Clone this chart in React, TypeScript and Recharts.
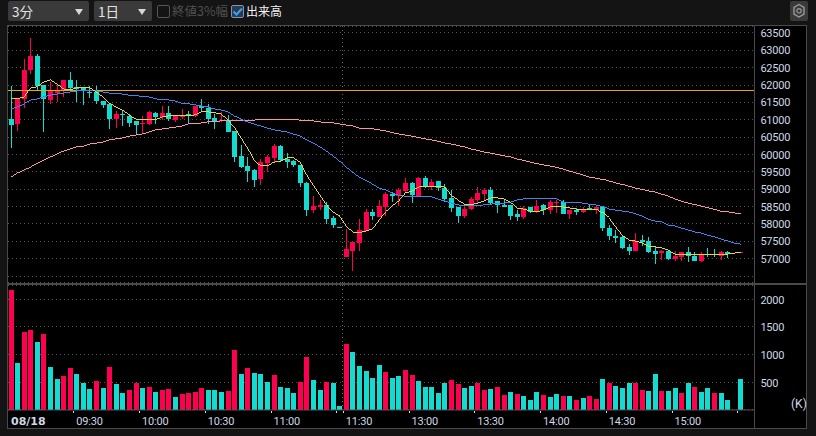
import React from "react";
import { ComposedChart, Bar, Line, XAxis, YAxis, CartesianGrid, ReferenceLine } from "recharts";

const RED = "#ff0050";
const TEAL = "#12dcd2";

const opens = [61020,60880,61600,62430,62840,62000,61570,61770,61860,62150,61950,61920,61800,61800,61540,61460,61020,61170,61110,60970,60880,60880,61200,61080,61200,60990,61080,61170,61110,61400,61340,61050,60970,60990,60680,59960,59670,59550,59290,59750,59900,60240,59870,59810,59700,59180,58400,58490,58550,58170,57910,57050,57220,57450,57800,58350,58200,58490,58860,58800,58950,59180,58800,59320,59060,59240,59030,58750,58490,58230,58430,58690,58860,58980,58660,58550,58550,58290,58200,58490,58350,58550,58400,58600,58630,58290,58400,58350,58460,58400,58490,57880,57650,57630,57340,57220,57540,57510,57220,57160,57220,56990,57050,57190,57080,56930,57130,57130,57080,57190,null,57170];
const highs = [61970,61600,62750,63360,62900,62000,62090,62000,62150,62380,62150,61920,61970,61970,61540,61460,61250,61250,61170,60970,61110,61250,61230,61400,61400,61110,61310,61250,61400,61600,61460,61170,61230,61140,60680,60270,59930,59580,59870,59980,60300,60270,60040,59840,59700,59210,58800,58690,58630,58230,57910,57850,57480,58140,58430,58430,58690,58920,58920,59030,59320,59210,59350,59380,59290,59240,59150,58980,58490,58490,58780,59060,59030,59060,58660,58690,58550,58400,58520,58490,58690,58570,58690,58690,58690,58400,58460,58490,58570,58490,58490,57970,57830,57680,57420,57740,57680,57630,57360,57250,57220,57220,57190,57340,57190,57190,57310,57280,57220,57220,null,57180];
const lows = [60190,60680,61340,62320,61860,60650,61460,61510,61660,61860,61510,61430,61630,61460,61340,60740,60760,60820,60790,60590,60590,60850,60880,60990,60970,60940,61020,60910,61080,61230,60880,60740,60940,60650,59780,59610,59210,59060,59120,59490,59750,59780,59610,59640,59060,58230,58320,58400,58000,57880,57900,57050,56650,57220,57800,58110,58200,58230,58630,58520,58920,58600,58800,59030,58980,58950,58630,58350,58030,58170,58400,58600,58660,58550,58320,58490,58110,58080,58140,58320,58320,58260,58290,58320,58290,58140,58260,58320,58400,58290,57800,57540,57450,57280,57110,57220,57360,57160,56850,56960,56960,56930,56930,56900,56930,56900,57050,57050,56960,57020,null,57170];
const closes = [60850,61600,62430,62840,61970,61600,61830,61860,62150,61920,61890,61830,61770,61540,61430,61020,61170,61140,60910,60850,60910,61230,61080,61200,61020,61110,61140,61140,61400,61340,61020,60970,60990,60650,59930,59640,59520,59260,59780,59930,60240,59840,59780,59700,59180,58400,58520,58550,58140,57970,57900,57280,57480,57830,58350,58230,58520,58860,58800,58980,59180,58830,59320,59060,59210,59030,58720,58460,58230,58430,58720,58890,58980,58600,58550,58490,58230,58200,58460,58350,58520,58400,58630,58630,58290,58400,58350,58430,58430,58490,57880,57650,57600,57310,57220,57510,57480,57190,57130,57220,56990,57080,57190,57080,56930,57130,57110,57110,57190,57130,null,57180];

const maShort = [61600,61600,61660,61920,61950,62090,62150,62030,61890,61860,61920,61920,61920,61800,61660,61480,61370,61280,61140,61020,61020,61020,61020,61080,61110,61110,61110,61110,61140,61230,61230,61200,61170,60990,60790,60480,60190,59840,59670,59670,59780,59810,59900,59900,59780,59410,59120,58830,58550,58350,58230,57940,57770,57740,57800,57850,58110,58350,58520,58660,58890,58950,59060,59090,59090,59090,59060,58830,58690,58570,58550,58600,58660,58750,58750,58720,58630,58460,58430,58370,58350,58400,58490,58490,58490,58460,58430,58430,58430,58430,58320,58170,57910,57680,57540,57510,57450,57360,57340,57310,57250,57130,57110,57110,57110,57110,57110,57110,57130,57130,57160,57190];
const maMid = [61310,61370,61460,61570,61600,61660,61710,61740,61770,61800,61830,61830,61830,61830,61800,61770,61770,61740,61710,61710,61660,61660,61600,61570,61570,61540,61480,61460,61430,61400,61370,61310,61280,61230,61110,61020,60940,60880,60820,60760,60710,60680,60650,60590,60530,60420,60330,60220,60100,59960,59810,59640,59490,59350,59260,59150,59030,58980,58890,58830,58800,58800,58800,58780,58780,58720,58660,58600,58550,58520,58520,58520,58550,58570,58600,58600,58630,58690,58720,58720,58720,58720,58720,58720,58630,58630,58630,58600,58570,58550,58490,58430,58400,58370,58350,58290,58230,58140,58080,58060,57970,57940,57880,57830,57770,57740,57680,57630,57570,57510,57450,57420];
const maLong = [59350,59470,59550,59640,59750,59840,59930,60010,60100,60160,60220,60240,60300,60330,60360,60420,60450,60480,60530,60560,60590,60650,60710,60740,60760,60790,60820,60880,60880,60910,60940,60940,60970,60990,60990,60990,60990,60990,61010,61010,61020,61020,61020,61010,60990,60990,60970,60940,60920,60910,60880,60850,60820,60760,60750,60740,60710,60680,60630,60590,60560,60530,60490,60450,60420,60380,60330,60300,60260,60220,60160,60120,60070,60040,60000,59960,59930,59870,59830,59780,59740,59700,59670,59630,59580,59520,59470,59410,59350,59320,59280,59240,59180,59140,59090,59030,59000,58950,58920,58860,58800,58720,58660,58600,58560,58520,58470,58420,58370,58350,58320,58290];

const volumes = [2170,850,1410,1450,1230,1370,780,560,610,760,650,490,380,520,400,780,470,310,360,490,400,420,330,360,380,240,290,310,330,400,360,360,330,340,1080,650,760,670,650,510,630,420,400,310,510,960,540,360,510,490,70,1190,1050,790,700,580,810,690,580,610,720,630,520,420,420,310,490,540,470,400,430,490,360,380,420,270,330,290,250,180,330,270,230,290,250,250,180,220,250,200,560,490,430,400,490,490,360,340,650,340,340,400,310,490,420,330,400,310,310,180,0,560];
const volumeUp = "RTRRTRTTRRTTTRTRTTRRTRTRRTRRRRTTTRRTRTTTRTTTRRTTRTTRTTTTTRTTRRTTTTTRRTTRRTRRTRTTTRTTRTRTRRTRTTTRRTTRTTRTRTTRTTT-R".split("");
const previousClose = 61857;

const priceTicks = [56500,57000,57500,58000,58500,59000,59500,60000,60500,61000,61500,62000,62500,63000,63500];
const volumeTicks = [500,1000,1500,2000];
const timeTicks = [0,10,20,30,40,50,51,61,71,81,91,101,111];
const timeLabels: Record<number,string> = {0:"08/18",10:"09:30",20:"10:00",30:"10:30",40:"11:00",51:"11:30",61:"13:00",71:"13:30",81:"14:00",91:"14:30",101:"15:00"};

const SLOTS = 114;
const slots = Array.from({ length: SLOTS }, (_, i) => i);
const table = slots.map((i) => {
  const hasCandle = i < opens.length && opens[i] != null;
  return {
    idx: i,
    range: hasCandle ? [lows[i], highs[i]] : null,
    open: hasCandle ? opens[i] : null,
    close: hasCandle ? closes[i] : null,
    high: hasCandle ? highs[i] : null,
    low: hasCandle ? lows[i] : null,
    maShort: i < maShort.length ? maShort[i] : null,
    maMid: i < maMid.length ? maMid[i] : null,
    maLong: i < maLong.length ? maLong[i] : null,
    volume: i < volumes.length && volumes[i] > 0 ? volumes[i] : null,
    volColor: volumeUp[i] === "R" ? RED : TEAL,
  };
});

const Candle = (p: any) => {
  const { x, y, width, height, payload } = p;
  if (payload.open == null) return null;
  const span = payload.high - payload.low;
  const k = span > 0 ? height / span : 0;
  const bodyTop = y + (payload.high - Math.max(payload.open, payload.close)) * k;
  const bodyH = Math.max(1, Math.abs(payload.open - payload.close) * k);
  const color = payload.close >= payload.open ? RED : TEAL;
  const left = Math.round(x);
  return (
    <g shapeRendering="crispEdges">
      <rect x={left + 2} y={y} width={1} height={Math.max(height, 1)} fill={color} />
      <rect x={left} y={bodyTop} width={5} height={bodyH} fill={color} />
    </g>
  );
};

const VolumeBar = (p: any) => {
  const { x, y, height, payload } = p;
  if (payload.volume == null) return null;
  return <rect x={Math.round(x)} y={y} width={5} height={height} fill={payload.volColor} shapeRendering="crispEdges" />;
};

const axisFont = "Roboto, 'Liberation Sans', sans-serif";
const labelColor = "#cfd8e6";

const PriceTick = (p: any) => {
  if (p.payload.value < 57000) return null;
  return (
    <text x={p.x - 2} y={p.y + 4} fill={labelColor} fontSize={11} letterSpacing={-0.2} fontFamily={axisFont}>{p.payload.value}</text>
  );
};
const VolTick = (p: any) => (
  <text x={p.x - 2} y={p.y + 4.5} fill={labelColor} fontSize={11} letterSpacing={-0.2} fontFamily={axisFont}>{p.payload.value}</text>
);
const TimeTick = (p: any) => {
  const v = p.payload.value as number;
  const left = p.x - 3.29;
  const label = timeLabels[v];
  if (v === 0) {
    return <text x={11} y={p.y + 7} fill={labelColor} fontSize={11} fontWeight={700} fontFamily="'DejaVu Sans', sans-serif">{label}</text>;
  }
  return (
    <g>
      <rect x={Math.round(left)} y={p.y - 7} width={1} height={2} fill="#dddddd" />
      {label ? <text x={left + 3} y={p.y + 7} fill={labelColor} fontSize={11} letterSpacing={-0.2} fontFamily={axisFont}>{label}</text> : null}
    </g>
  );
};

const Caret = ({ x }: { x: number }) => (
  <div style={{ position: "absolute", left: x, top: 8, width: 0, height: 0, borderLeft: "4px solid transparent", borderRight: "4px solid transparent", borderTop: "6px solid #d8d8d8" }} />
);

const Select = ({ left, width, text }: { left: number; width: number; text: string }) => (
  <div style={{ position: "absolute", left, top: 1, width, height: 20, background: "#3a3a3a", borderRadius: 2, color: "#e4e4e4", fontSize: 13.5, lineHeight: "20px", fontFamily: "'Noto Sans CJK JP', sans-serif" }}>
    <span style={{ position: "absolute", left: 4 }}>{text}</span>
    <Caret x={width - 14} />
  </div>
);

const W = 816;
const H = 436;
const plotLeft = 7.6;
const plotRight = 754.4;
const axisW = 52;

export default function App() {
  return (
    <div style={{ position: "absolute", left: 0, top: 0, width: W, height: H, background: "#141414", overflow: "hidden" }}>
      <Select left={8} width={81} text="3分" />
      <Select left={94} width={58} text="1日" />
      <div style={{ position: "absolute", left: 157, top: 5, width: 11, height: 11, border: "1px solid #555", borderRadius: 2 }} />
      <div style={{ position: "absolute", left: 172, top: 1, color: "#505050", fontSize: 12.5, lineHeight: "20px", fontFamily: "'Noto Sans CJK JP', sans-serif", whiteSpace: "nowrap" }}>終値3%幅</div>
      <div style={{ position: "absolute", left: 231, top: 5, width: 11, height: 11, border: "1px solid #8a93a5", borderRadius: 2, background: "#2a3a55" }}>
        <svg width={11} height={11} style={{ display: "block" }}><path d="M1.5 5.5 L4.5 8.5 L10 2.5" stroke="#38a4f0" strokeWidth={2} fill="none" /></svg>
      </div>
      <div style={{ position: "absolute", left: 246, top: 1, color: "#f2f2f2", fontSize: 12, lineHeight: "20px", fontFamily: "'Noto Sans CJK JP', sans-serif", whiteSpace: "nowrap" }}>出来高</div>
      <div style={{ position: "absolute", left: 790, top: 1, width: 18, height: 20, background: "#3a3a3a", borderRadius: 2 }}>
        <svg width={18} height={20}>
          <polygon points="9,3.5 14,6.5 14,13 9,16 4,13 4,6.5" fill="none" stroke="#9a9a9a" strokeWidth={1.4} />
          <circle cx={9} cy={9.8} r={2.2} fill="none" stroke="#9a9a9a" strokeWidth={1.2} />
        </svg>
      </div>

      {/* panel */}
      <div style={{ position: "absolute", left: 7, top: 25, width: 800, height: 404, background: "#000", boxSizing: "border-box", border: "1px solid #4a4a4a" }} />
      <div style={{ position: "absolute", left: 7, top: 283, width: 800, height: 2, background: "#4a4a4a" }} />
      <div style={{ position: "absolute", left: 754, top: 25, width: 1, height: 404, background: "#4a4a4a" }} />

      <div style={{ position: "absolute", left: 0, top: 26 }}>
        <ComposedChart width={plotRight + axisW} height={257} data={table} margin={{ top: 0, right: 0, bottom: 0, left: plotLeft }} barCategoryGap={0}>
          <CartesianGrid horizontal vertical={false} stroke="#555" strokeDasharray="1 3" shapeRendering="crispEdges" />
          <XAxis dataKey="idx" type="category" hide padding={{ left: 0, right: -2.6 }} />
          <YAxis orientation="right" width={axisW} domain={[56300, 63701]} ticks={priceTicks} interval={0} axisLine={false} tickLine={false} tick={<PriceTick />} allowDataOverflow />
          <ReferenceLine x={51} stroke="#666" strokeDasharray="1 3" position="start" shapeRendering="crispEdges" />
          <ReferenceLine y={previousClose} stroke="#f0a800" strokeWidth={1} shapeRendering="crispEdges" />
          <Bar dataKey="range" barSize={5} shape={<Candle />} isAnimationActive={false} />
          <Line dataKey="maLong" stroke="#ff90b0" strokeWidth={1} dot={false} activeDot={false} isAnimationActive={false} type="linear" shapeRendering="crispEdges" />
          <Line dataKey="maMid" stroke="#3f86f0" strokeWidth={1} dot={false} activeDot={false} isAnimationActive={false} type="linear" shapeRendering="crispEdges" />
          <Line dataKey="maShort" stroke="#e8d82e" strokeWidth={1} dot={false} activeDot={false} isAnimationActive={false} type="linear" shapeRendering="crispEdges" />
        </ComposedChart>
      </div>

      <div style={{ position: "absolute", left: 0, top: 285 }}>
        <ComposedChart width={plotRight + axisW} height={143} data={table} margin={{ top: 0, right: 0, bottom: 0, left: plotLeft }} barCategoryGap={0}>
          <CartesianGrid horizontal vertical={false} stroke="#555" strokeDasharray="1 3" shapeRendering="crispEdges" />
          <XAxis dataKey="idx" type="category" padding={{ left: 0, right: -2.6 }} ticks={timeTicks} interval={0} height={18} axisLine={{ stroke: "#555" }} tickLine={false} tick={<TimeTick />} />
          <YAxis orientation="right" width={axisW} domain={[0, 2256]} ticks={volumeTicks} interval={0} axisLine={false} tickLine={false} tick={<VolTick />} allowDataOverflow />
          <ReferenceLine x={51} stroke="#666" strokeDasharray="1 3" position="start" shapeRendering="crispEdges" />
          <Bar dataKey="volume" barSize={5} shape={<VolumeBar />} isAnimationActive={false} />
        </ComposedChart>
      </div>
      <div style={{ position: "absolute", left: 791, top: 397, color: labelColor, fontSize: 12, fontFamily: axisFont }}>(K)</div>
    </div>
  );
}
